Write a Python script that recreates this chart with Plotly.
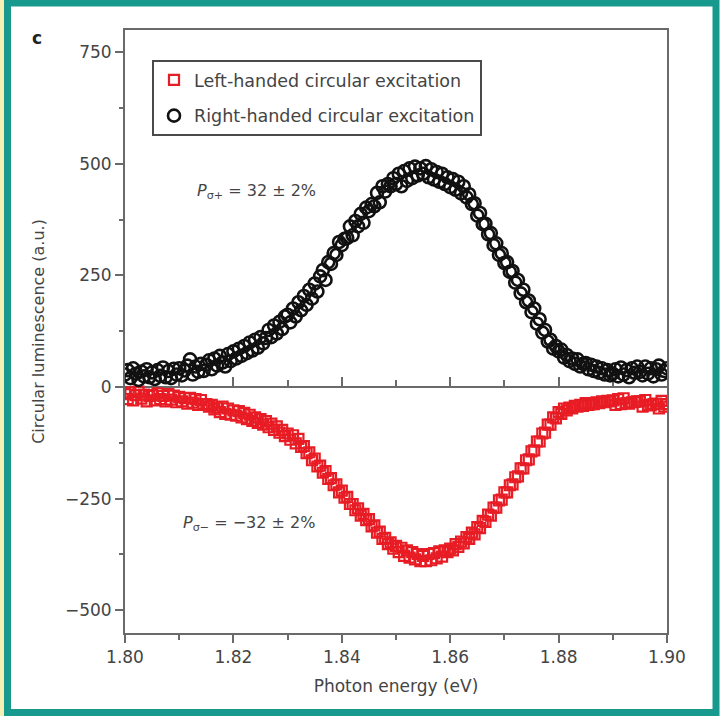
import plotly.graph_objects as go

# ---------------- data ----------------
energy_start = 1.800
energy_step = 0.0005

right_handed = [
    28, 38, 20, 42, 30, 16, 35, 24, 40, 22,
    33, 18, 38, 25, 44, 22, 36, 20, 41, 28,
    42, 26, 37, 48, 62, 28, 46, 34, 52, 36,
    50, 60, 40, 64, 48, 70, 55, 46, 74, 58,
    80, 64, 86, 70, 92, 76, 100, 82, 106, 88,
    112, 98, 110, 128, 112, 138, 120, 146, 130, 158,
    162, 145, 176, 158, 190, 172, 204, 184, 218, 198,
    232, 214, 248, 262, 240, 280, 276, 300, 296, 325,
    318, 332, 334, 360, 340, 372, 360, 388, 368, 402,
    394, 410, 405, 435, 414, 450, 438, 455, 450, 468,
    455, 478, 450, 484, 462, 490, 468, 494, 474, 490,
    478, 495, 470, 488, 465, 482, 460, 478, 455, 470,
    448, 466, 442, 460, 434, 450, 425, 432, 410, 412,
    384, 390, 365, 366, 342, 345, 318, 322, 296, 300,
    278, 280, 258, 260, 234, 240, 210, 218, 190, 194,
    168, 176, 142, 152, 122, 128, 102, 106, 86, 92,
    80, 84, 66, 72, 58, 64, 52, 62, 46, 52,
    54, 40, 50, 36, 46, 32, 42, 28, 38, 26,
    30, 40, 24, 44, 28, 38, 22, 42, 32, 46,
    34, 26, 46, 30, 42, 24, 40, 48, 28, 36,
    42,
]

left_handed = [
    -16, -27, -12, -30, -18, -10, -26, -17, -32, -20,
    -18, -30, -14, -27, -20, -32, -16, -28, -19, -34,
    -22, -32, -25, -37, -24, -35, -27, -40, -29, -38,
    -38, -44, -40, -50, -46, -56, -44, -60, -48, -62,
    -52, -64, -54, -68, -58, -72, -62, -76, -68, -80,
    -72, -84, -76, -90, -82, -96, -88, -102, -96, -110,
    -104, -118, -108, -126, -116, -134, -132, -148, -146, -164,
    -160, -178, -176, -192, -188, -206, -204, -220, -218, -236,
    -232, -248, -246, -262, -262, -276, -272, -288, -284, -298,
    -296, -312, -310, -326, -324, -340, -338, -352, -348, -362,
    -356, -370, -360, -378, -366, -382, -370, -386, -374, -390,
    -378, -390, -374, -388, -372, -384, -368, -380, -366, -370,
    -362, -366, -352, -358, -346, -350, -336, -340, -326, -330,
    -314, -316, -300, -302, -286, -288, -270, -270, -254, -252,
    -236, -236, -220, -218, -202, -200, -182, -182, -164, -162,
    -144, -142, -122, -122, -104, -102, -84, -84, -68, -70,
    -56, -60, -48, -52, -46, -48, -42, -44, -40, -42,
    -36, -40, -38, -38, -34, -36, -32, -34, -31, -32,
    -30, -40, -27, -38, -25, -36, -37, -34, -33, -32,
    -32, -44, -29, -40, -41, -38, -37, -48, -31, -44,
    -38,
]

energy = [round(energy_start + i * energy_step, 4) for i in range(len(right_handed))]

series_names = ["Left-handed circular excitation", "Right-handed circular excitation"]
x_ticks = [1.80, 1.82, 1.84, 1.86, 1.88, 1.90]
x_ticktext = ["1.80", "1.82", "1.84", "1.86", "1.88", "1.90"]
y_ticks = [-500, -250, 0, 250, 500, 750]
annot_plus = "<i>P</i><sub>σ+</sub> = 32 ± 2%"
annot_minus = "<i>P</i><sub>σ−</sub> = −32 ± 2%"
x_title = "Photon energy (eV)"
y_title = "Circular luminescence (a.u.)"
panel_label = "c"

# ---------------- layout constants ----------------
W, H = 721, 716
ML, MR, MT, MB = 125, 54, 30, 83
PW, PH = W - ML - MR, H - MT - MB
Y_RANGE = [-551, 800]
X_RANGE = [1.80, 1.90]
FONT = "DejaVu Sans"
AXIS_COL = "#6a6a6a"
TEXT_COL = "#444444"
TEAL = "#17998e"


def px_x(px):
    return (px - ML) / PW


def px_y(py):
    return (H - MB - py) / PH


zero_pos = (0 - Y_RANGE[0]) / (Y_RANGE[1] - Y_RANGE[0])

fig = go.Figure()

fig.add_trace(go.Scatter(
    x=energy, y=left_handed, mode="markers", name=series_names[0],
    legendgroup="a",
    marker=dict(symbol="square-open", size=10, color="#e81c24",
                line=dict(width=2.2, color="#e81c24")),
))
fig.add_trace(go.Scatter(
    x=energy, y=right_handed, mode="markers", name=series_names[1],
    legendgroup="b",
    marker=dict(symbol="circle-open", size=12, color="#111111",
                line=dict(width=2.6, color="#111111")),
))
# helper trace so the zero-level axis (x2) is drawn
fig.add_trace(go.Scatter(
    x=[energy[0]], y=[0], xaxis="x2", yaxis="y", mode="none",
    showlegend=False, hoverinfo="skip",
))

fig.update_layout(
    width=W, height=H,
    margin=dict(l=ML, r=MR, t=MT, b=MB),
    paper_bgcolor="white", plot_bgcolor="white",
    font=dict(family=FONT, color=TEXT_COL, size=16),
    showlegend=True,
    legend=dict(
        x=px_x(152), y=px_y(60), xanchor="left", yanchor="top",
        bordercolor="#4a4a4a", borderwidth=2, bgcolor="white",
        font=dict(family=FONT, size=17.5, color=TEXT_COL),
        traceorder="grouped", tracegroupgap=10, itemwidth=30,
    ),
    xaxis=dict(
        range=X_RANGE, showgrid=False, zeroline=False,
        showline=True, linecolor=AXIS_COL, linewidth=2, mirror=True,
        ticks="outside", ticklen=8, tickwidth=1.5, tickcolor=AXIS_COL,
        tickvals=x_ticks, ticktext=x_ticktext,
        minor=dict(dtick=0.01, ticks="outside", ticklen=5, tickwidth=1.5, tickcolor=AXIS_COL),
        tickfont=dict(size=17, color=TEXT_COL),
        title=dict(text=x_title, font=dict(size=17, color=TEXT_COL), standoff=14),
    ),
    xaxis2=dict(
        range=X_RANGE, overlaying="x", anchor="free", position=zero_pos, side="bottom",
        showgrid=False, zeroline=False, showline=True, linecolor=AXIS_COL, linewidth=1.5,
        ticks="inside", ticklen=9, tickwidth=1.5, tickcolor=AXIS_COL,
        tickvals=x_ticks, showticklabels=False,
        minor=dict(dtick=0.01, ticks="inside", ticklen=6, tickwidth=1.5, tickcolor=AXIS_COL),
        layer="below traces",
    ),
    yaxis=dict(
        range=Y_RANGE, showgrid=False, zeroline=False,
        showline=True, linecolor=AXIS_COL, linewidth=2, mirror=True,
        ticks="outside", ticklen=8, tickwidth=1.5, tickcolor=AXIS_COL,
        tickvals=y_ticks,
        minor=dict(dtick=125, tick0=125, ticks="outside", ticklen=4, tickwidth=1.5, tickcolor=AXIS_COL),
        tickfont=dict(size=17, color=TEXT_COL),
        title=dict(text=y_title, font=dict(size=16, color=TEXT_COL), standoff=16),
    ),
)

fig.add_annotation(x=1.8242, y=438, xref="x", yref="y", text=annot_plus,
                   showarrow=False, font=dict(size=16, color=TEXT_COL))
fig.add_annotation(x=1.8229, y=-306, xref="x", yref="y", text=annot_minus,
                   showarrow=False, font=dict(size=16, color=TEXT_COL))
fig.add_annotation(x=px_x(37), y=px_y(38), xref="paper", yref="paper", text=f"<b>{panel_label}</b>",
                   showarrow=False, xanchor="center", yanchor="middle",
                   font=dict(size=17, color="#222222", family=FONT))

# decorative outer frame
fig.add_shape(type="rect", xref="paper", yref="paper",
              x0=px_x(0), x1=px_x(4), y0=px_y(H), y1=px_y(0),
              fillcolor="#f6efb4", line=dict(width=0), layer="above")
fig.add_shape(type="rect", xref="paper", yref="paper",
              x0=px_x(7.5), x1=px_x(716), y0=px_y(712.5), y1=px_y(3),
              fillcolor="rgba(0,0,0,0)", line=dict(width=7, color=TEAL), layer="above")

fig.write_html("out.html")
